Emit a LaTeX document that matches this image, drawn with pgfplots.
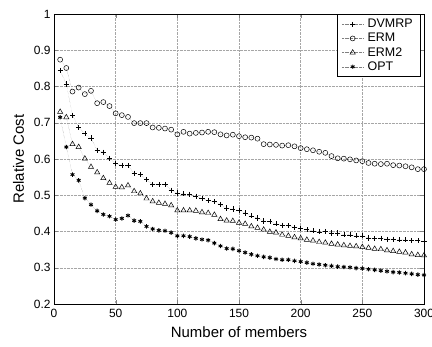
\documentclass[border=0pt]{standalone}
\usepackage{fontspec}
\setmainfont{Liberation Sans}
\usepackage{pgfplots}
\pgfplotsset{compat=1.18}
\begin{document}
\begin{tikzpicture}
\begin{axis}[
  name=main,
  scale only axis,
  width=370bp, height=290bp,
  xmin=0, xmax=300, ymin=0.2, ymax=1,
  xtick={0,50,...,300},
  ytick={0.2,0.3,...,1.0},
  yticklabels={0.2,0.3,0.4,0.5,0.6,0.7,0.8,0.9,1},
  /pgf/number format/assume math mode=true,
  tick label style={font=\fontsize{12}{14}\selectfont},
  label style={font=\fontsize{15}{17}\selectfont},
  xticklabel style={yshift=-2bp},
  xlabel={Number of members},
  ylabel={Relative Cost},
  xlabel style={yshift=-2bp},
  ylabel style={yshift=3bp},
  tick align=inside,
  major tick length=4bp,
  grid=major,
  major grid style={densely dotted, gray!70, line width=0.4pt},
  axis line style={line width=0.8pt},
  every axis plot/.append style={line width=0.3pt, densely dotted, mark options={solid, black, line width=0.5pt}},
  legend image code/.code={\draw[mark repeat=2,mark phase=2] plot coordinates {(0cm,0cm) (0.38cm,0cm) (0.76cm,0cm)};},
  legend style={at={(1,1)}, anchor=north east, xshift=-3bp, yshift=-0.5bp,
    font=\fontsize{12.5}{13}\selectfont, draw=black, line width=0.8pt,
    row sep=0pt, inner xsep=4bp, inner ysep=2.5pt,
    nodes={inner xsep=4bp}},
  legend cell align=left,
]
\addplot[gray, mark=+, mark size=2.6pt] coordinates {
(5,0.844)(10,0.807)(15,0.721)(20,0.687)(25,0.670)(30,0.658)(35,0.624)(40,0.619)(45,0.602)(50,0.587)
(55,0.583)(60,0.582)(65,0.561)(70,0.557)(75,0.543)(80,0.530)(85,0.530)(90,0.530)(95,0.514)(100,0.506)
(105,0.504)(110,0.503)(115,0.497)(120,0.491)(125,0.485)(130,0.483)(135,0.474)(140,0.465)(145,0.462)(150,0.458)
(155,0.451)(160,0.443)(165,0.437)(170,0.429)(175,0.428)(180,0.421)(185,0.417)(190,0.416)(195,0.411)(200,0.408)
(205,0.405)(210,0.402)(215,0.399)(220,0.400)(225,0.396)(230,0.396)(235,0.391)(240,0.391)(245,0.388)(250,0.388)
(255,0.382)(260,0.381)(265,0.381)(270,0.379)(275,0.379)(280,0.377)(285,0.377)(290,0.375)(295,0.375)(300,0.373)
};
\addlegendentry{DVMRP}
\addplot[gray, mark=o, mark size=2.5pt] coordinates {
(5,0.874)(10,0.851)(15,0.786)(20,0.797)(25,0.779)(30,0.788)(35,0.754)(40,0.757)(45,0.746)(50,0.726)
(55,0.721)(60,0.716)(65,0.699)(70,0.699)(75,0.699)(80,0.687)(85,0.686)(90,0.684)(95,0.681)(100,0.668)
(105,0.675)(110,0.670)(115,0.672)(120,0.673)(125,0.675)(130,0.674)(135,0.668)(140,0.665)(145,0.667)(150,0.663)
(155,0.660)(160,0.659)(165,0.656)(170,0.641)(175,0.640)(180,0.639)(185,0.637)(190,0.638)(195,0.635)(200,0.630)
(205,0.627)(210,0.624)(215,0.620)(220,0.617)(225,0.608)(230,0.602)(235,0.601)(240,0.599)(245,0.596)(250,0.594)
(255,0.589)(260,0.587)(265,0.586)(270,0.587)(275,0.583)(280,0.582)(285,0.580)(290,0.577)(295,0.572)(300,0.572)
};
\addlegendentry{ERM}
\addplot[gray, mark=triangle, mark size=3pt] coordinates {
(5,0.730)(10,0.715)(15,0.641)(20,0.633)(25,0.601)(30,0.578)(35,0.563)(40,0.547)(45,0.534)(50,0.523)
(55,0.522)(60,0.527)(65,0.511)(70,0.505)(75,0.491)(80,0.483)(85,0.479)(90,0.476)(95,0.472)(100,0.458)
(105,0.458)(110,0.458)(115,0.457)(120,0.453)(125,0.451)(130,0.446)(135,0.434)(140,0.430)(145,0.429)(150,0.424)
(155,0.421)(160,0.414)(165,0.410)(170,0.405)(175,0.399)(180,0.397)(185,0.391)(190,0.388)(195,0.384)(200,0.381)
(205,0.377)(210,0.375)(215,0.371)(220,0.369)(225,0.366)(230,0.364)(235,0.362)(240,0.360)(245,0.359)(250,0.357)
(255,0.355)(260,0.352)(265,0.351)(270,0.348)(275,0.346)(280,0.344)(285,0.342)(290,0.337)(295,0.335)(300,0.334)
};
\addlegendentry{ERM2}
\addplot[gray, mark=asterisk, mark size=2.2pt, mark options={solid, black, line width=0.9pt}] coordinates {
(5,0.715)(10,0.633)(15,0.557)(20,0.541)(25,0.492)(30,0.474)(35,0.457)(40,0.447)(45,0.442)(50,0.433)
(55,0.436)(60,0.444)(65,0.430)(70,0.428)(75,0.414)(80,0.407)(85,0.403)(90,0.402)(95,0.397)(100,0.388)
(105,0.388)(110,0.386)(115,0.381)(120,0.378)(125,0.376)(130,0.368)(135,0.360)(140,0.353)(145,0.352)(150,0.347)
(155,0.342)(160,0.337)(165,0.333)(170,0.330)(175,0.328)(180,0.324)(185,0.322)(190,0.322)(195,0.319)(200,0.317)
(205,0.314)(210,0.311)(215,0.309)(220,0.307)(225,0.305)(230,0.303)(235,0.302)(240,0.301)(245,0.299)(250,0.298)
(255,0.296)(260,0.294)(265,0.292)(270,0.290)(275,0.288)(280,0.287)(285,0.285)(290,0.283)(295,0.281)(300,0.280)
};
\addlegendentry{OPT}
\end{axis}
\pgfresetboundingbox
\path (main.south west) ++(-54bp,-43bp) rectangle ([shift={(8bp,14bp)}]main.north east);
\end{tikzpicture}
\end{document}
